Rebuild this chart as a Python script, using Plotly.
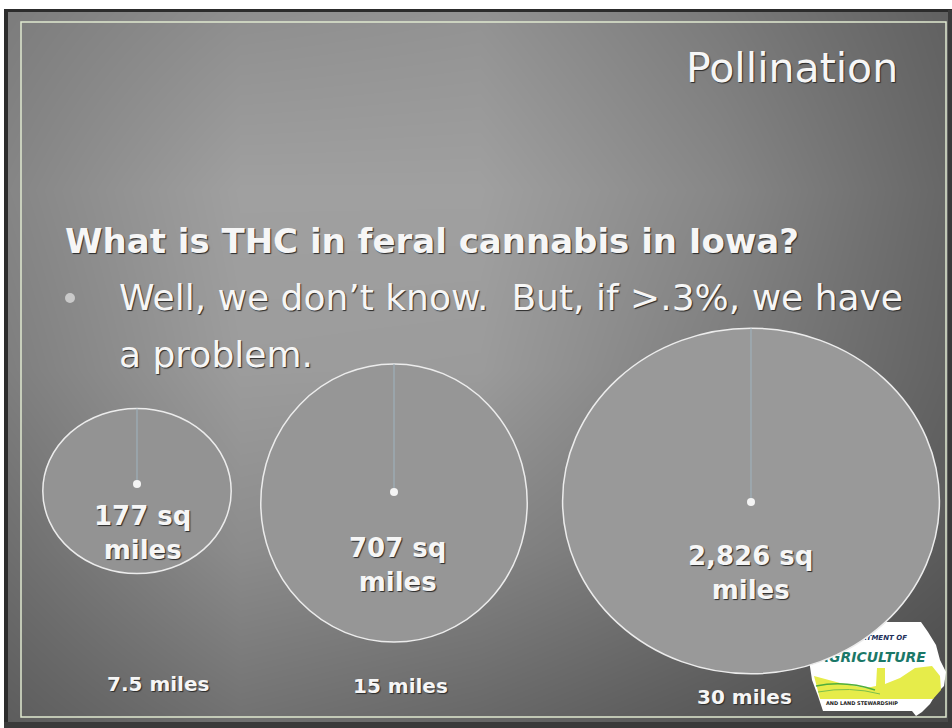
import numpy as np
import plotly.graph_objects as go

# ---------------- data ----------------
radius_miles = [7.5, 15, 30]
radius_labels = ["7.5 miles", "15 miles", "30 miles"]
area_labels = ["177", "707", "2,826"]
title_text = "Pollination"
heading_text = "What is THC in feral cannabis in Iowa?"
bullet_lines = ["Well, we don’t know.  But, if >.3%, we have", "a problem."]

# slide background brightness (0-255)
bg_x = [5, 240, 480, 720, 952]
bg_y = [10, 190, 370, 550, 728]
bg_z = [
    [124, 142, 146, 122, 96],
    [133, 160, 160, 135, 102],
    [126, 156, 155, 126, 98],
    [110, 140, 132, 114, 90],
    [92, 112, 102, 87, 72],
]

# ---------------- layout / style ----------------
W, H = 952, 728
circle_cx = [137, 394, 751]
circle_cy = [491, 503, 501]
px_per_sqrt_mile = 34.4
aspect = [0.876, 1.044, 0.917]
dot_y = [484, 492, 502]
circle_fill = ["#939393", "#969696", "#999999"]
area_label_pos = [(142, 533), (397, 565), (750, 573)]
radius_label_pos = [(158, 684), (400, 686), (744, 697)]

TXT = "#f6f6f6"
SHADOW = "1px 1px 1px #2a2a2a"
FONT = "DejaVu Sans"

fig = go.Figure()
fig.add_trace(go.Heatmap(
    x=bg_x, y=bg_y, z=bg_z, zmin=0, zmax=255, zsmooth="best",
    colorscale=[[0, "rgb(0,0,0)"], [1, "rgb(255,255,255)"]],
    showscale=False, hoverinfo="skip"))

shapes = []
# paper edges / frame
shapes.append(dict(type="rect", x0=0, x1=W, y0=0, y1=9, fillcolor="white", line_width=0, layer="above"))
shapes.append(dict(type="rect", x0=0, x1=4, y0=0, y1=H, fillcolor="white", line_width=0, layer="above"))
shapes.append(dict(type="line", x0=4, x1=W, y0=10.5, y1=10.5, line=dict(color="#2c2c2c", width=3), layer="above"))
shapes.append(dict(type="line", x0=6, x1=6, y0=10, y1=H, line=dict(color="#2c2c2c", width=4), layer="above"))
shapes.append(dict(type="line", x0=950, x1=950, y0=10, y1=H, line=dict(color="#3a3a3a", width=4), layer="above"))
shapes.append(dict(type="line", x0=4, x1=W, y0=725, y1=725, line=dict(color="#3a3a3a", width=6), layer="above"))
shapes.append(dict(type="rect", x0=21, x1=946, y0=22, y1=717, line=dict(color="#dfe9cf", width=1.5), layer="above"))

# bullet dot
shapes.append(dict(type="circle", x0=65, x1=75, y0=293, y1=303, fillcolor="#c9c9c9", line_width=0, layer="above"))

# logo (Iowa Dept. of Agriculture) - drawn below the big circle
shapes.append(dict(type="path",
    path="M 806,622 L 921,622 L 928,632 L 936,645 L 940,660 L 946,672 L 944,686 L 936,694 L 930,704 L 922,712 L 916,716 L 912,711 L 823,711 L 818,696 L 812,680 L 809,660 L 806,640 Z",
    fillcolor="#ffffff", line_width=0, layer="above"))
shapes.append(dict(type="path",
    path="M 814,676 L 840,683 L 866,688 L 876,686 L 877,668 L 885,668 L 885,684 L 900,678 L 915,668 L 932,666 L 940,676 L 941,690 L 933,699 L 820,699 Z",
    fillcolor="#e6ec4a", line_width=0, layer="above"))
shapes.append(dict(type="path", path="M 816,686 Q 845,680 875,690",
    line=dict(color="#4fae3c", width=1.5), layer="above"))
shapes.append(dict(type="path", path="M 818,692 Q 850,686 880,694",
    line=dict(color="#7cc04a", width=1), layer="above"))
shapes.append(dict(type="rect", x0=840, x1=908, y0=631, y1=643, line_width=0, layer="above",
    label=dict(text="DEPARTMENT OF", font=dict(family=FONT, size=7, color="#22305a", weight="bold", style="italic"),
               textposition="middle center")))
shapes.append(dict(type="rect", x0=806, x1=938, y0=647, y1=664, line_width=0, layer="above",
    label=dict(text="AGRICULTURE", font=dict(family=FONT, size=14, color="#1b7868", weight="bold", style="italic"),
               textposition="middle center")))
shapes.append(dict(type="rect", x0=822, x1=902, y0=698, y1=708, line_width=0, layer="above",
    label=dict(text="AND LAND STEWARDSHIP", font=dict(family=FONT, size=5, color="#222222", weight="bold"),
               textposition="middle center")))

# circles, radius lines and centre dots
for i, r in enumerate(radius_miles):
    rx = px_per_sqrt_mile * np.sqrt(r)
    ry = rx * aspect[i]
    cx, cy = circle_cx[i], circle_cy[i]
    shapes.append(dict(type="circle", x0=cx - rx, x1=cx + rx, y0=cy - ry, y1=cy + ry,
                       fillcolor=circle_fill[i], line=dict(color="#ececec", width=1.5), layer="above"))
    shapes.append(dict(type="line", x0=cx, x1=cx, y0=cy - ry, y1=dot_y[i],
                       line=dict(color="#9fb4c0", width=1), layer="above"))
    shapes.append(dict(type="circle", x0=cx - 4, x1=cx + 4, y0=dot_y[i] - 4, y1=dot_y[i] + 4,
                       fillcolor="#f4f4f4", line_width=0, layer="above"))

annotations = []
annotations.append(dict(x=900, y=68, text=title_text, xanchor="right", yanchor="middle",
    font=dict(family=FONT, size=41, color=TXT, shadow=SHADOW), showarrow=False))
annotations.append(dict(x=63, y=241, text="<b>" + heading_text + "</b>", xanchor="left", yanchor="middle",
    font=dict(family=FONT, size=34, color=TXT, shadow=SHADOW), showarrow=False))
for j, (line, yy) in enumerate(zip(bullet_lines, [297, 354])):
    annotations.append(dict(x=117, y=yy, text=line, xanchor="left", yanchor="middle",
        font=dict(family=FONT, size=36, color=TXT, shadow=SHADOW), showarrow=False))
for i, a in enumerate(area_labels):
    x, y = area_label_pos[i]
    annotations.append(dict(x=x, y=y, text="<b>" + a + " sq<br>miles</b>", xanchor="center", yanchor="middle",
        font=dict(family=FONT, size=26, color=TXT, shadow=SHADOW), showarrow=False, align="center"))
for i, lab in enumerate(radius_labels):
    x, y = radius_label_pos[i]
    annotations.append(dict(x=x, y=y, text="<b>" + lab + "</b>", xanchor="center", yanchor="middle",
        font=dict(family=FONT, size=20, color=TXT, shadow=SHADOW), showarrow=False))

fig.update_layout(
    width=W, height=H, margin=dict(l=0, r=0, t=0, b=0),
    paper_bgcolor="white", plot_bgcolor="white",
    xaxis=dict(range=[0, W], visible=False, fixedrange=True),
    yaxis=dict(range=[H, 0], visible=False, fixedrange=True),
    shapes=shapes, annotations=annotations, showlegend=False)

fig.write_html("out.html", config={"displayModeBar": False},
               post_script="document.body.style.margin='0';document.body.style.overflow='hidden';")
